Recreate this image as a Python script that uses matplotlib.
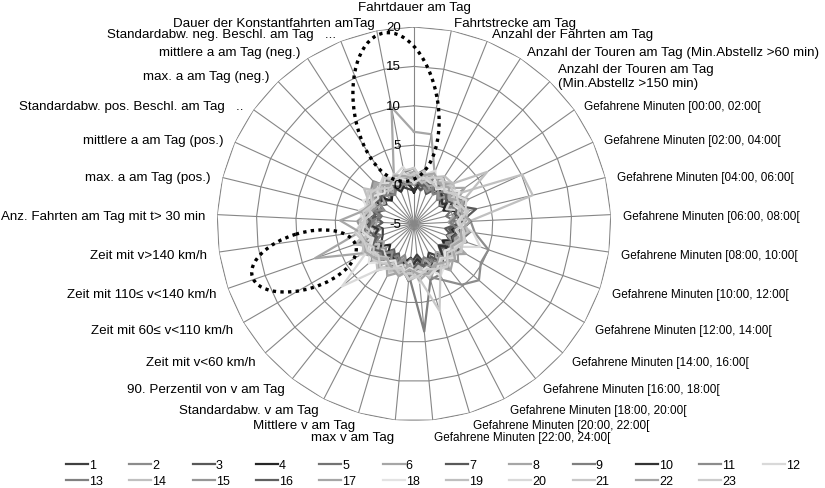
import numpy as np
import matplotlib
matplotlib.use("Agg")
import matplotlib.pyplot as plt
from matplotlib.patches import Ellipse
from matplotlib import transforms

plt.rcParams["font.family"] = ["Liberation Sans", "DejaVu Sans"]

categories = [
    "Fahrtdauer am Tag",
    "Fahrtstrecke am Tag",
    "Anzahl der Fahrten am Tag",
    "Anzahl der Touren am Tag (Min.Abstellz >60 min)",
    "Anzahl der Touren am Tag\n(Min.Abstellz >150 min)",
    "Gefahrene Minuten [00:00, 02:00[",
    "Gefahrene Minuten [02:00, 04:00[",
    "Gefahrene Minuten [04:00, 06:00[",
    "Gefahrene Minuten [06:00, 08:00[",
    "Gefahrene Minuten [08:00, 10:00[",
    "Gefahrene Minuten [10:00, 12:00[",
    "Gefahrene Minuten [12:00, 14:00[",
    "Gefahrene Minuten [14:00, 16:00[",
    "Gefahrene Minuten [16:00, 18:00[",
    "Gefahrene Minuten [18:00, 20:00[",
    "Gefahrene Minuten [20:00, 22:00[",
    "Gefahrene Minuten [22:00, 24:00[",
    "max v am Tag",
    "Mittlere v am Tag",
    "Standardabw. v am Tag",
    "90. Perzentil von v am Tag",
    "Zeit mit v<60 km/h",
    "Zeit mit 60≤ v<110 km/h",
    "Zeit mit 110≤ v<140 km/h",
    "Zeit mit v>140 km/h",
    "Anz. Fahrten am Tag mit t> 30 min",
    "max. a am Tag (pos.)",
    "mittlere a am Tag (pos.)",
    "Standardabw. pos. Beschl. am Tag   ..",
    "max. a am Tag (neg.)",
    "mittlere a am Tag (neg.)",
    "Standardabw. neg. Beschl. am Tag   ...",
    "Dauer der Konstantfahrten amTag",
]

r_ticks = [-5, 0, 5, 10, 15, 20]

# one list per day (1..23), one value per category
v01 = [-0.8, 0.4, 1.5, 0.9, -0.2, -1.0, -0.3, 1.2, 1.7, 0.1, -0.6, 0.8, 1.8, 0.3, -0.9, 0.5, -1.1, 0.2, 1.0, -0.5, 0.9, 1.6, -0.2, -0.8, -1.0, 1.1, 1.8, 0.4, -0.7, 0.9, 1.4, 0.2, -0.4]
v02 = [0.9, -0.7, 0.5, 1.9, 1.2, -0.9, 0.3, 1.0, -0.6, 1.6, 0.7, -0.8, 0.4, 2.1, 1.1, -0.4, 0.8, 1.7, -0.9, 0.6, 1.4, -0.3, 2.2, 0.9, -0.7, 0.4, 1.5, -0.9, 1.8, 2.5, 0.5, -0.5, 1.3]
v03 = [1.4, 0.7, -0.9, 0.4, -0.6, 1.1, 1.7, 0.2, 1.2, -1.0, 0.3, 1.5, -0.5, 0.8, 1.8, 0.5, -0.7, 1.0, 1.6, 0.1, -0.9, 0.9, -0.4, 1.3, 0.4, -1.0, 0.6, 1.5, 0.0, -0.8, 0.7, 1.4, 0.2]
v04 = [-1.0, 1.2, 0.5, -0.5, 1.6, 0.2, -0.9, 1.8, 0.8, -0.2, 1.5, -0.8, 1.1, -0.4, 0.4, 1.3, 0.7, -0.7, 0.3, 1.4, 0.5, -1.0, 0.9, 0.1, 1.6, 0.6, -0.5, 0.3, 1.2, -0.9, 0.0, 0.9, 1.3]
v05 = [1.1, 2.0, -0.5, 0.7, -0.1, 1.5, 0.9, -0.8, 0.4, 2.2, 1.3, 0.1, -0.9, 1.2, 0.0, 1.9, 0.5, -0.6, 1.4, 0.8, -0.7, 1.3, 0.2, 2.3, 0.6, -0.2, -0.8, 1.2, 0.4, 1.7, -0.5, 0.6, 1.9]
v06 = [6.7, 6.6, 2.0, 0.6, -0.5, 1.4, 2.6, 0.3, -0.6, 1.1, 1.9, 0.4, 1.3, -0.5, 0.9, 2.4, 0.2, 0.8, -0.4, 1.5, 2.1, 0.0, 1.0, 2.8, 0.5, -0.3, 1.3, 1.7, 0.4, 1.2, -0.2, 1.9, 10.1]
v07 = [0.2, -0.6, 1.2, 1.7, 0.4, 1.4, 0.7, 3.1, 1.0, -0.5, 0.6, 1.3, 0.2, 1.8, -0.4, 0.7, 1.5, 0.3, 1.1, -0.8, 0.2, 1.6, 0.8, -0.1, 1.8, 0.5, 0.1, -0.7, 1.4, 0.4, 1.0, 0.1, 0.6]
v08 = [1.6, 0.4, 1.1, -0.6, 1.3, 2.9, 0.5, 2.0, 0.7, 1.5, -0.5, 2.6, 0.9, 0.2, 1.8, -0.4, 1.5, 2.3, 0.3, 1.0, 2.5, 0.4, -0.6, 1.5, 0.6, 2.0, 1.1, 0.1, -0.5, 2.2, 0.9, 0.4, 1.5]
v09 = [0.5, 1.7, 0.2, 1.4, -0.8, 0.9, 2.0, 1.1, 2.3, 0.2, 1.0, -0.3, 1.5, 0.6, 2.2, 2.4, 8.7, 1.6, 0.3, -0.5, 1.2, 0.5, 1.9, -0.6, 0.8, 1.5, 0.2, 1.0, 2.1, 0.0, -0.6, 1.4, 0.8]
v10 = [-0.7, 0.6, 1.6, 0.7, 0.1, -0.6, 1.1, 0.4, 1.4, 0.8, 0.1, 1.0, -0.8, 1.5, 0.5, 1.2, -0.5, 0.7, 1.7, 0.2, -0.1, 1.0, 1.3, 0.5, -0.4, 1.4, 0.3, 0.7, 0.1, 1.1, 1.5, -0.6, 0.4]
v11 = [1.3, 0.2, -0.6, 1.6, 0.8, 0.5, 1.8, 0.9, 2.2, 2.8, 5.0, 4.8, 5.9, 4.8, 3.0, 2.0, 0.7, 2.3, 0.5, 1.6, -0.5, 1.0, 0.3, 2.1, 1.1, 0.1, 1.6, -0.7, 0.6, 1.2, 1.9, 0.7, 0.0]
v12 = [0.4, 1.3, 2.3, 0.2, 1.6, 1.0, -0.5, 2.1, 0.5, 2.6, 3.9, 0.8, 1.8, 0.3, 1.4, 0.6, 2.5, -0.3, 1.2, 2.1, 0.6, 0.1, 2.9, 1.0, 0.3, 2.2, 1.4, 0.4, 2.6, 0.1, 0.8, 1.6, 2.4]
v13 = [2.1, 0.5, 1.2, -0.5, 0.8, 1.8, 0.3, 1.4, -0.4, 0.7, 2.1, 0.2, 1.0, 1.7, 0.4, -0.6, 1.2, 2.2, 0.8, 0.1, 1.5, 0.6, 0.2, 1.9, 1.3, 0.4, -0.5, 2.0, 1.0, 0.1, 1.4, 0.6, 1.7]
v14 = [0.8, 1.9, 0.5, 1.4, 2.2, 1.5, 10.1, 10.5, 2.0, 0.4, 1.2, 2.0, 0.1, 1.4, 0.6, 1.7, 0.3, 1.0, 1.9, 0.5, 2.5, 1.4, 0.1, 3.0, 0.8, 1.5, 0.4, 1.2, 2.8, 0.6, 0.2, 1.8, 1.0]
v15 = [0.0, 1.1, 1.6, 0.6, -0.5, 1.4, 0.6, 2.2, 0.3, 1.6, 0.8, 1.4, 2.4, 0.1, 1.2, 0.5, 1.8, 0.8, -0.4, 1.4, 0.6, 2.1, 1.0, 0.4, 1.6, 2.2, 0.8, 0.2, 1.2, 2.3, 0.5, 1.4, 0.3]
v16 = [0.8, -0.1, 0.5, 1.6, 0.9, 0.0, 1.2, 0.4, 2.2, 1.0, 0.2, 1.5, 0.6, 0.9, 1.7, 0.7, 0.0, 1.3, 0.5, 0.8, 1.1, 0.3, 1.4, 0.0, 0.9, 0.6, 1.6, 1.0, 0.3, 0.6, 1.2, 0.1, 0.9]
v17 = [1.7, 0.6, 0.1, 1.2, 1.9, 0.4, 1.2, 1.6, 0.7, 2.1, 0.5, 1.2, 1.6, 2.5, 0.9, 1.4, 2.2, 0.2, 1.4, 2.4, 0.7, 1.6, 2.4, 8.3, 1.9, 0.9, 1.9, 0.5, 1.4, 2.2, 0.7, 1.2, 0.4]
v18 = [0.5, 1.4, 1.8, 0.3, 1.1, 2.1, 0.6, 1.3, 1.9, 0.4, 1.6, 0.8, 0.2, 1.4, 2.4, 0.7, 1.3, 0.6, 1.8, 0.2, 1.1, 2.6, 1.4, 0.5, 2.6, 1.6, 0.5, 2.1, 1.2, 0.4, 1.9, 1.4, 0.7]
v19 = [1.2, 0.3, 1.4, 2.2, 2.1, 6.4, 1.7, 0.7, 1.4, 1.9, 1.0, 0.4, 1.5, 1.8, 0.7, 2.1, 0.5, 1.4, 1.0, 1.8, 0.4, 1.2, 2.4, 1.9, 0.7, 1.9, 1.2, 0.5, 1.6, 1.0, 2.1, 0.7, 1.4]
v20 = [0.2, 1.1, 0.6, 1.6, 0.8, 1.4, 2.3, 1.7, 0.5, 1.2, 1.9, 0.9, 1.6, 0.5, 1.4, 1.8, 1.0, 2.1, 0.4, 1.3, 2.4, 7.1, 1.8, 0.7, 1.6, 1.2, 2.2, 1.0, 0.6, 1.8, 1.2, 0.4, 1.6]
v21 = [1.4, 1.6, 0.8, 0.4, 1.8, 1.2, 0.7, 2.1, 1.4, 0.5, 1.6, 1.9, 1.2, 0.7, 2.3, 6.5, 1.9, 1.2, 1.6, 0.7, 1.4, 1.9, 0.9, 1.8, 2.6, 1.4, 0.7, 1.6, 2.1, 1.2, 0.5, 1.8, 1.0]
v22 = [0.7, 1.3, 1.9, 1.0, 1.4, 0.6, 1.8, 1.2, 2.1, 1.0, 1.4, 0.6, 1.9, 1.2, 0.8, 1.6, 1.4, 0.8, 1.9, 1.2, 0.6, 1.6, 2.1, 1.6, 2.0, 4.4, 1.8, 1.0, 1.4, 1.9, 0.8, 1.6, 1.2]
v23 = [2.1, 0.8, 1.4, 1.8, 0.6, 1.6, 1.2, 1.9, 0.8, 1.4, 1.8, 1.2, 0.6, 1.9, 1.4, 1.0, 1.6, 2.1, 0.8, 1.4, 1.9, 1.0, 1.8, 1.7, 2.1, 1.2, 1.6, 0.8, 1.8, 1.4, 2.2, 1.0, 1.9]

series = [v01, v02, v03, v04, v05, v06, v07, v08, v09, v10, v11, v12,
          v13, v14, v15, v16, v17, v18, v19, v20, v21, v22, v23]
names = [str(i + 1) for i in range(len(series))]
colors = ["#404040", "#8c8c8c", "#595959", "#262626", "#737373", "#a6a6a6",
          "#595959", "#a6a6a6", "#7f7f7f", "#333333", "#8c8c8c", "#d9d9d9",
          "#808080", "#c0c0c0", "#969696", "#5f5f5f", "#a6a6a6", "#e3e3e3",
          "#bfbfbf", "#d9d9d9", "#c8c8c8", "#a6a6a6", "#cccccc"]

W, H = 825, 489
cx, cy, R = 414, 225, 197
grid_c = "#868686"

fig = plt.figure(figsize=(W / 100, H / 100), dpi=100)
ax = fig.add_axes([(cx - R) / W, (H - cy - R) / H, 2 * R / W, 2 * R / H],
                  projection="polar")
ax.set_theta_zero_location("N")
ax.set_theta_direction(-1)
ax.set_ylim(r_ticks[0], r_ticks[-1])
ax.grid(False)
ax.spines["polar"].set_visible(False)
ax.set_xticks([])
ax.set_yticks([])

n = len(categories)
theta = np.arange(n) * 2 * np.pi / n
closed = np.append(theta, theta[0])

# polygon grid like excel radar
for r in r_ticks[1:]:
    ax.plot(closed, [r] * (n + 1), color=grid_c, lw=0.8, zorder=1)
for t in theta:
    ax.plot([t, t], [r_ticks[0], r_ticks[-1]], color=grid_c, lw=0.8, zorder=1)

for vals, name, c in zip(series, names, colors):
    ax.plot(closed, np.append(vals, vals[0]), color=c, lw=1.6, label=name, zorder=2)

# radial tick labels left of the top spoke
shift = transforms.ScaledTranslation(-13 / 100, 0, fig.dpi_scale_trans)
for r in r_ticks:
    ax.text(0, r, str(r), transform=ax.transData + shift, ha="right",
            va="center", fontsize=9.5, zorder=4)

# category labels
for t, lab in zip(theta, categories):
    s, c = np.sin(t), np.cos(t)
    if s > 0.05:
        ha = "left"
    elif s < -0.05:
        ha = "right"
    else:
        ha = "center"
    down = 2 + 2 * c  # pixels
    if c < -0.98:
        down += 5
    elif c > 0.995:
        down -= 12
    fs = 8.5 if lab.startswith("Gefahrene") else 9.6
    tr = ax.transData + transforms.ScaledTranslation(0, -down / 100, fig.dpi_scale_trans)
    ax.text(t, r_ticks[-1] + 1.55, lab, ha=ha, va="center", fontsize=fs,
            multialignment="left", transform=tr)

# dotted highlight ellipses
ov = fig.add_axes([0, 0, 1, 1], zorder=5)
ov.set_xlim(0, W)
ov.set_ylim(H, 0)
ov.axis("off")
for (x, y), w, h, a in [((396, 108), 150, 84, 81), ((304, 262), 108, 56, -17)]:
    ov.add_patch(Ellipse((x, y), w, h, angle=a, fill=False, ec="black",
                         lw=2.4, ls=(0, (1, 1.3))))

handles, labels = ax.get_legend_handles_labels()
order = []
for j in range(11):
    order += [j, j + 12]
order += [11]
fig.legend([handles[i] for i in order], [labels[i] for i in order], ncol=12,
           loc="upper left", bbox_to_anchor=(66 / W, 1 - 460 / H),
           frameon=False, fontsize=9, handlelength=1.75, handletextpad=0.1,
           columnspacing=2.1, labelspacing=0.35, borderpad=0, borderaxespad=0)

fig.savefig("out.png", dpi=100, facecolor="white")
